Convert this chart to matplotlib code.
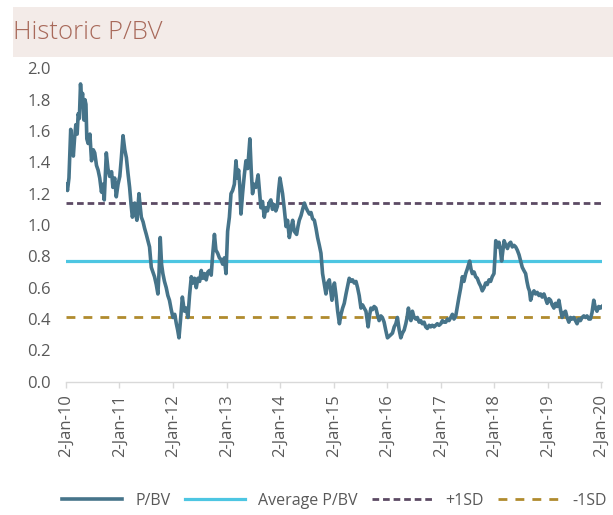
import matplotlib
matplotlib.use("Agg")
import matplotlib.pyplot as plt
import pandas as pd
from matplotlib.patches import Rectangle

plt.rcParams['font.family'] = ['Open Sans', 'DejaVu Sans']

# Daily-ish P/BV history (sampled)
pbv_dates = [
    "2010-01-04", "2010-01-12", "2010-01-22", "2010-02-03", "2010-02-12", "2010-02-21", "2010-03-01", "2010-03-10",
    "2010-03-19", "2010-03-26", "2010-04-03", "2010-04-11", "2010-04-18", "2010-04-25", "2010-05-04", "2010-05-11",
    "2010-05-18", "2010-05-24", "2010-06-02", "2010-06-14", "2010-06-25", "2010-07-07", "2010-07-17", "2010-07-29",
    "2010-08-09", "2010-08-20", "2010-09-01", "2010-09-09", "2010-09-20", "2010-10-04", "2010-10-15", "2010-10-27",
    "2010-11-09", "2010-11-18", "2010-11-30", "2010-12-11", "2010-12-23", "2011-01-04", "2011-01-14", "2011-01-26",
    "2011-02-07", "2011-02-18", "2011-03-01", "2011-03-12", "2011-03-23", "2011-03-31", "2011-04-09", "2011-04-16",
    "2011-04-25", "2011-05-01", "2011-05-15", "2011-05-23", "2011-05-31", "2011-06-12", "2011-06-22", "2011-07-04",
    "2011-07-15", "2011-07-26", "2011-08-07", "2011-08-18", "2011-08-29", "2011-09-10", "2011-09-21", "2011-09-29",
    "2011-10-07", "2011-10-16", "2011-10-25", "2011-11-05", "2011-11-17", "2011-11-28", "2011-12-09", "2011-12-21",
    "2012-01-02", "2012-01-14", "2012-01-25", "2012-02-03", "2012-02-12", "2012-02-23", "2012-03-06", "2012-03-15",
    "2012-03-21", "2012-04-02", "2012-04-13", "2012-04-24", "2012-05-06", "2012-05-17", "2012-05-28", "2012-06-09",
    "2012-06-20", "2012-07-02", "2012-07-13", "2012-07-24", "2012-08-04", "2012-08-16", "2012-08-27", "2012-09-07",
    "2012-09-19", "2012-09-28", "2012-10-11", "2012-10-21", "2012-11-02", "2012-11-14", "2012-11-25", "2012-12-06",
    "2012-12-17", "2012-12-29", "2013-01-09", "2013-01-21", "2013-02-01", "2013-02-12", "2013-02-24", "2013-03-07",
    "2013-03-16", "2013-03-25", "2013-04-02", "2013-04-10", "2013-04-21", "2013-05-03", "2013-05-14", "2013-05-26",
    "2013-06-10", "2013-06-19", "2013-06-28", "2013-07-09", "2013-07-21", "2013-08-05", "2013-08-16", "2013-08-24",
    "2013-09-04", "2013-09-16", "2013-09-27", "2013-10-08", "2013-10-19", "2013-10-31", "2013-11-11", "2013-11-23",
    "2013-12-04", "2013-12-15", "2013-12-23", "2014-01-01", "2014-01-10", "2014-01-19", "2014-01-31", "2014-02-12",
    "2014-02-22", "2014-03-06", "2014-03-18", "2014-03-29", "2014-04-09", "2014-04-25", "2014-05-04", "2014-05-13",
    "2014-05-25", "2014-06-05", "2014-06-17", "2014-06-28", "2014-07-09", "2014-07-21", "2014-08-01", "2014-08-12",
    "2014-08-24", "2014-09-04", "2014-09-15", "2014-09-27", "2014-10-08", "2014-10-19", "2014-10-31", "2014-11-11",
    "2014-11-22", "2014-12-04", "2014-12-14", "2014-12-22", "2015-01-01", "2015-01-08", "2015-01-19", "2015-01-30",
    "2015-02-11", "2015-02-22", "2015-03-05", "2015-03-16", "2015-03-28", "2015-04-08", "2015-04-19", "2015-05-01",
    "2015-05-12", "2015-05-23", "2015-06-04", "2015-06-15", "2015-06-26", "2015-07-08", "2015-07-19", "2015-07-30",
    "2015-08-11", "2015-08-20", "2015-08-26", "2015-09-04", "2015-09-14", "2015-09-25", "2015-10-06", "2015-10-18",
    "2015-10-28", "2015-11-09", "2015-11-21", "2015-12-01", "2015-12-13", "2015-12-24", "2016-01-05", "2016-01-17",
    "2016-01-28", "2016-02-08", "2016-02-20", "2016-03-02", "2016-03-13", "2016-03-25", "2016-04-05", "2016-04-16",
    "2016-04-28", "2016-05-09", "2016-05-18", "2016-05-27", "2016-06-04", "2016-06-13", "2016-06-23", "2016-07-05",
    "2016-07-16", "2016-07-27", "2016-08-08", "2016-08-19", "2016-08-30", "2016-09-11", "2016-09-22", "2016-10-03",
    "2016-10-15", "2016-10-26", "2016-11-06", "2016-11-18", "2016-11-29", "2016-12-10", "2016-12-22", "2017-01-03",
    "2017-01-14", "2017-01-26", "2017-02-06", "2017-02-17", "2017-02-28", "2017-03-12", "2017-03-23", "2017-04-03",
    "2017-04-15", "2017-04-26", "2017-05-07", "2017-05-19", "2017-05-30", "2017-06-10", "2017-06-22", "2017-07-03",
    "2017-07-19", "2017-07-28", "2017-08-06", "2017-08-18", "2017-08-29", "2017-09-09", "2017-09-21", "2017-10-02",
    "2017-10-13", "2017-10-25", "2017-11-05", "2017-11-16", "2017-11-28", "2017-12-09", "2017-12-20", "2018-01-01",
    "2018-01-08", "2018-01-13", "2018-01-24", "2018-02-04", "2018-02-14", "2018-02-22", "2018-03-03", "2018-03-11",
    "2018-03-23", "2018-04-03", "2018-04-14", "2018-04-25", "2018-05-06", "2018-05-18", "2018-05-29", "2018-06-09",
    "2018-06-21", "2018-07-02", "2018-07-13", "2018-07-24", "2018-08-05", "2018-08-14", "2018-08-23", "2018-08-31",
    "2018-09-08", "2018-09-19", "2018-10-01", "2018-10-12", "2018-10-23", "2018-11-04", "2018-11-15", "2018-11-26",
    "2018-12-08", "2018-12-19", "2018-12-30", "2019-01-11", "2019-01-22", "2019-02-02", "2019-02-14", "2019-02-25",
    "2019-03-08", "2019-03-20", "2019-03-31", "2019-04-11", "2019-04-23", "2019-05-04", "2019-05-15", "2019-05-27",
    "2019-06-07", "2019-06-18", "2019-06-30", "2019-07-11", "2019-07-22", "2019-08-03", "2019-08-14", "2019-08-25",
    "2019-09-06", "2019-09-17", "2019-09-28", "2019-10-10", "2019-10-21", "2019-11-01", "2019-11-13", "2019-11-24",
    "2019-12-05", "2019-12-17", "2019-12-29", "2020-01-08",
]
pbv_values = [
    1.26, 1.22, 1.30, 1.61, 1.50, 1.44, 1.55, 1.64, 1.58, 1.71, 1.68, 1.90, 1.80, 1.84, 1.67, 1.80,
    1.77, 1.55, 1.52, 1.58, 1.41, 1.48, 1.46, 1.38, 1.35, 1.30, 1.21, 1.26, 1.16, 1.46, 1.36, 1.31,
    1.34, 1.24, 1.30, 1.18, 1.26, 1.31, 1.42, 1.57, 1.48, 1.43, 1.33, 1.24, 1.12, 1.05, 1.10, 1.14,
    1.06, 1.03, 1.20, 1.12, 1.05, 1.02, 0.98, 0.94, 0.90, 0.86, 0.73, 0.70, 0.67, 0.62, 0.56, 0.70,
    0.92, 0.75, 0.69, 0.64, 0.60, 0.55, 0.52, 0.46, 0.41, 0.43, 0.37, 0.33, 0.28, 0.40, 0.54, 0.48,
    0.45, 0.47, 0.41, 0.55, 0.67, 0.63, 0.66, 0.60, 0.66, 0.64, 0.71, 0.66, 0.69, 0.65, 0.70, 0.71,
    0.68, 0.80, 0.94, 0.84, 0.82, 0.79, 0.78, 0.75, 0.79, 0.69, 0.96, 1.05, 1.20, 1.22, 1.26, 1.41,
    1.30, 1.35, 1.25, 1.07, 1.20, 1.32, 1.41, 1.36, 1.55, 1.35, 1.20, 1.26, 1.24, 1.32, 1.20, 1.11,
    1.15, 1.05, 1.11, 1.09, 1.14, 1.16, 1.10, 1.13, 1.09, 1.12, 1.22, 1.30, 1.25, 1.20, 1.10, 0.99,
    1.03, 0.92, 0.98, 1.03, 0.96, 0.94, 0.99, 1.03, 1.06, 1.10, 1.14, 1.11, 1.09, 1.07, 1.08, 1.04,
    1.03, 0.98, 0.92, 0.87, 0.82, 0.69, 0.62, 0.56, 0.63, 0.65, 0.58, 0.52, 0.60, 0.63, 0.55, 0.45,
    0.37, 0.43, 0.47, 0.50, 0.56, 0.61, 0.66, 0.64, 0.65, 0.63, 0.64, 0.60, 0.55, 0.47, 0.49, 0.47,
    0.45, 0.39, 0.35, 0.42, 0.47, 0.46, 0.48, 0.47, 0.43, 0.39, 0.42, 0.41, 0.38, 0.33, 0.28, 0.29,
    0.30, 0.31, 0.35, 0.37, 0.41, 0.33, 0.28, 0.31, 0.33, 0.37, 0.41, 0.47, 0.42, 0.39, 0.45, 0.41,
    0.40, 0.41, 0.38, 0.39, 0.37, 0.38, 0.35, 0.34, 0.36, 0.35, 0.36, 0.35, 0.36, 0.37, 0.36, 0.37,
    0.39, 0.38, 0.38, 0.40, 0.39, 0.41, 0.43, 0.40, 0.42, 0.48, 0.54, 0.60, 0.67, 0.64, 0.69, 0.72,
    0.77, 0.72, 0.69, 0.70, 0.67, 0.66, 0.63, 0.61, 0.58, 0.60, 0.63, 0.62, 0.65, 0.64, 0.67, 0.69,
    0.80, 0.90, 0.86, 0.89, 0.84, 0.77, 0.84, 0.90, 0.87, 0.85, 0.88, 0.89, 0.86, 0.87, 0.86, 0.84,
    0.81, 0.77, 0.73, 0.71, 0.69, 0.64, 0.60, 0.58, 0.52, 0.56, 0.58, 0.56, 0.57, 0.55, 0.56, 0.54,
    0.56, 0.53, 0.50, 0.53, 0.52, 0.49, 0.47, 0.50, 0.48, 0.52, 0.46, 0.41, 0.44, 0.45, 0.41, 0.38,
    0.41, 0.40, 0.41, 0.39, 0.37, 0.40, 0.39, 0.41, 0.42, 0.41, 0.42, 0.40, 0.40, 0.44, 0.52, 0.47,
    0.45, 0.48, 0.47, 0.48,
]

average_pbv = 0.77
plus_1sd = 1.14
minus_1sd = 0.41

tick_dates = ["2010-01-02", "2011-01-02", "2012-01-02", "2013-01-02", "2014-01-02", "2015-01-02",
              "2016-01-02", "2017-01-02", "2018-01-02", "2019-01-02", "2020-01-02"]
tick_labels = ["2-Jan-10", "2-Jan-11", "2-Jan-12", "2-Jan-13", "2-Jan-14", "2-Jan-15",
               "2-Jan-16", "2-Jan-17", "2-Jan-18", "2-Jan-19", "2-Jan-20"]
y_ticks = [0.0, 0.2, 0.4, 0.6, 0.8, 1.0, 1.2, 1.4, 1.6, 1.8, 2.0]

dates = pd.to_datetime(pbv_dates)
ticks = pd.to_datetime(tick_dates)
x_start, x_end = ticks[0], ticks[-1]

fig = plt.figure(figsize=(6.13, 5.15), dpi=100)
fig.patch.set_facecolor("white")

# header band with title
fig.patches.append(Rectangle((0.0212, 0.8893), 0.98, 0.0971, transform=fig.transFigure,
                             facecolor="#f3ebe8", edgecolor="none", zorder=0))
fig.text(0.021, 0.936, "Historic P/BV", fontsize=18.5, color="#a8695a",
         fontweight="light", va="center", ha="left")

ax = fig.add_axes([0.1077, 0.2588, 0.8743, 0.6086])

ax.plot(dates, pbv_values, color="#46748a", lw=2.6, label="P/BV", zorder=4,
        solid_joinstyle="round")
ax.plot([x_start, x_end], [average_pbv] * 2, color="#4dc6e2", lw=2.3,
        label="Average P/BV", zorder=3)
ax.plot([x_start, x_end], [plus_1sd] * 2, color="#5c4a64", lw=2.0,
        dashes=(2.4, 1.4), label="+1SD", zorder=3)
ax.plot([x_start, x_end], [minus_1sd] * 2, color="#b08b2e", lw=2.0,
        dashes=(3.2, 2.9), label="-1SD", zorder=3)

ax.set_xlim(x_start, x_end + pd.Timedelta(days=6))
ax.set_ylim(0, 2.0)
ax.set_xticks(ticks)
ax.set_xticklabels(tick_labels, rotation=90, fontsize=12, color="#595959")
ax.set_yticks(y_ticks)
ax.set_yticklabels([f"{v:.1f}" for v in y_ticks], fontsize=12, color="#595959")

for side in ("top", "right", "left"):
    ax.spines[side].set_visible(False)
ax.spines["bottom"].set_color("#d9d9d9")
ax.spines["bottom"].set_linewidth(1.0)
ax.tick_params(axis="x", length=4, width=1, color="#d9d9d9", pad=5)
ax.tick_params(axis="y", length=0, pad=11)

leg = fig.legend(loc="center", bbox_to_anchor=(0.545, 0.028), ncol=4, frameon=False,
                 fontsize=11.5, handlelength=3.8, handletextpad=0.8, columnspacing=0.9,
                 labelcolor="#595959")

fig.savefig("out.png", dpi=100)
